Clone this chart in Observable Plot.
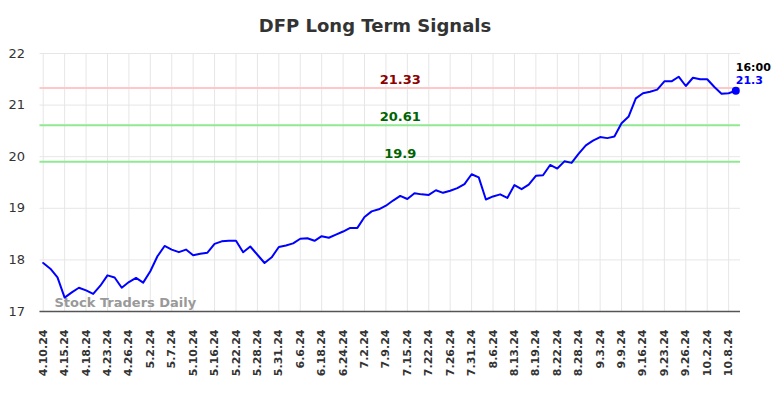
<!DOCTYPE html>
<html>
<head>
<meta charset="utf-8">
<script src="https://cdn.jsdelivr.net/npm/d3@7"></script>
<script src="https://cdn.jsdelivr.net/npm/@observablehq/plot@0.6"></script>
<style>
  body { margin: 0; background: #fff; font-family: "DejaVu Sans", sans-serif; }
  #title { height: 25px; padding-top: 15px; padding-right: 34px; font-size: 18px; line-height: 21px; font-weight: bold; color: #333; text-align: center; width: 750px; }
</style>
</head>
<body>
<div id="title">DFP Long Term Signals</div>
<div id="chart"></div>
<script>
const tickLabels = ["4.10.24","4.15.24","4.18.24","4.23.24","4.26.24","5.2.24","5.7.24","5.10.24","5.16.24","5.22.24","5.28.24","5.31.24","6.6.24","6.18.24","6.24.24","7.2.24","7.9.24","7.15.24","7.22.24","7.26.24","7.31.24","8.6.24","8.13.24","8.19.24","8.22.24","8.28.24","9.3.24","9.9.24","9.16.24","9.23.24","9.26.24","10.2.24","10.8.24"];
const tickStep = 3;
const prices = [
17.94, 17.83, 17.66, 17.27, 17.37, 17.46, 17.41, 17.34, 17.50, 17.70,
17.66, 17.46, 17.57, 17.65, 17.56, 17.78, 18.07, 18.27, 18.20, 18.15,
18.20, 18.09, 18.12, 18.14, 18.31, 18.36, 18.37, 18.37, 18.15, 18.26,
18.10, 17.94, 18.05, 18.25, 18.28, 18.32, 18.41, 18.42, 18.37, 18.46,
18.43, 18.49, 18.55, 18.62, 18.62, 18.83, 18.94, 18.98, 19.05, 19.15,
19.24, 19.18, 19.29, 19.27, 19.26, 19.35, 19.30, 19.34, 19.39, 19.47,
19.66, 19.60, 19.17, 19.23, 19.27, 19.20, 19.45, 19.37, 19.46, 19.63,
19.64, 19.84, 19.77, 19.91, 19.88, 20.06, 20.22, 20.31, 20.38, 20.36,
20.39, 20.65, 20.78, 21.13, 21.23, 21.26, 21.30, 21.46, 21.46, 21.55,
21.37, 21.53, 21.50, 21.50, 21.35, 21.22, 21.23, 21.28
];
const resistance = [21.33];
const supports = [20.61, 19.9];
const yTicks = [17, 18, 19, 20, 21, 22];
const lastTime = "16:00";
const lastLabel = "21.3";
const watermark = "Stock Traders Daily";

const data = prices.map((v, i) => ({i, v}));
const last = data[data.length - 1];
const tickIdx = tickLabels.map((d, k) => k * tickStep);

const chart = Plot.plot({
  width: 784,
  height: 358,
  marginTop: 13,
  marginBottom: 87,
  marginLeft: 39.5,
  marginRight: 44,
  style: {fontFamily: "DejaVu Sans, sans-serif", background: "#fff"},
  x: {domain: [-0.45, 97.66], label: null, axis: null},
  y: {domain: [17, 22], label: null, axis: null},
  marks: [
    Plot.gridX(tickIdx, {stroke: "#e6e6e6", strokeOpacity: 1, strokeWidth: 1}),
    Plot.gridY(yTicks, {stroke: "#e6e6e6", strokeOpacity: 1, strokeWidth: 1}),
    Plot.axisY(yTicks, {tickSize: 0, tickPadding: 15, fontSize: 13, fill: "#333", label: null, tickFormat: d => String(d)}),
    Plot.axisX(tickIdx, {tickSize: 0, tickPadding: 18, tickRotate: -90, fontSize: 11, fontWeight: "bold", fill: "#333", label: null, tickFormat: i => tickLabels[i / tickStep]}),
    Plot.ruleY(resistance, {stroke: "#ffc8c8", strokeWidth: 2}),
    Plot.ruleY(supports, {stroke: "#90e890", strokeWidth: 2}),
    Plot.ruleY([17], {stroke: "#555", strokeWidth: 1.5}),
    Plot.text(resistance, {y: d => d, text: d => String(d), frameAnchor: "middle", dx: 10, dy: -8, fill: "#8b0000", fontWeight: "bold", fontSize: 13}),
    Plot.text(supports, {y: d => d, text: d => String(d), frameAnchor: "middle", dx: 10, dy: -8, fill: "#006400", fontWeight: "bold", fontSize: 13}),
    Plot.text([watermark], {frameAnchor: "bottom-left", dx: 14.5, dy: -9, text: d => d, fill: "#999", fontWeight: "bold", fontSize: 13, lineAnchor: "middle", textAnchor: "start"}),
    Plot.line(data, {x: "i", y: "v", stroke: "#0000ff", strokeWidth: 2}),
    Plot.dot([last], {x: "i", y: "v", r: 4, fill: "#0000ff"}),
    Plot.text([last], {x: "i", y: "v", text: () => lastTime, textAnchor: "start", dy: -23, dx: 0, fill: "#000", fontWeight: "bold", fontSize: 11}),
    Plot.text([last], {x: "i", y: "v", text: () => lastLabel, textAnchor: "start", dy: -10, dx: 0, fill: "#0000ff", fontWeight: "bold", fontSize: 11})
  ]
});
document.getElementById("chart").appendChild(chart);
</script>
</body>
</html>
